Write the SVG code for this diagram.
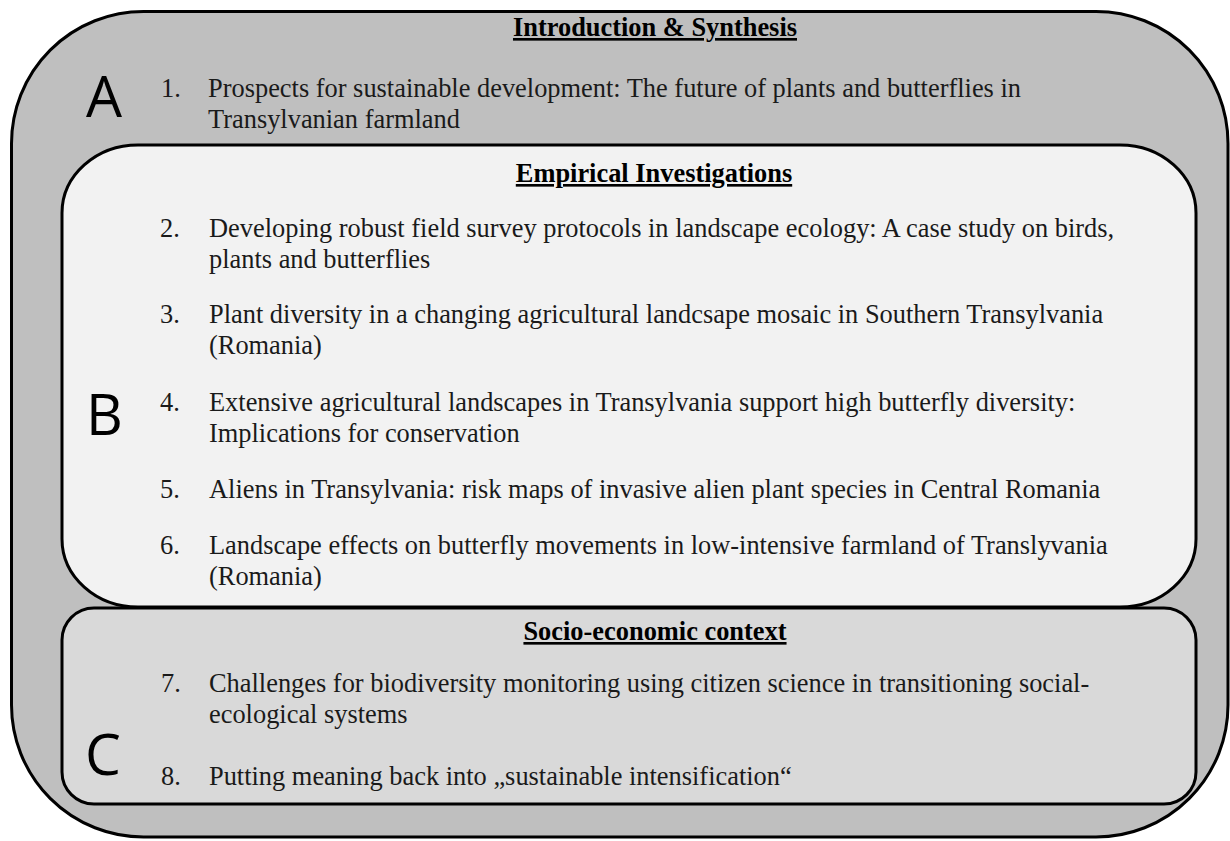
<svg xmlns="http://www.w3.org/2000/svg" width="1230" height="841" viewBox="0 0 1230 841">
<style>
.box{stroke:#000;stroke-width:3}
.t{font-family:"Liberation Serif","Times New Roman",serif;font-size:26.4px;fill:#1a1a1a}
.h{font-family:"Liberation Serif","Times New Roman",serif;font-size:26.4px;font-weight:bold;fill:#000;text-decoration:underline;text-anchor:middle}
.L{font-family:"Open Sans","Liberation Sans",sans-serif;font-size:57px;fill:#000}
</style>
<rect width="1230" height="841" fill="#ffffff"/>
<g id="sectionA">
<rect class="box" x="11.5" y="11.5" width="1216.5" height="825.5" rx="132" ry="132" fill="#bfbfbf"/>
<text class="h" x="655" y="36">Introduction &amp; Synthesis</text>
<text class="L" x="86" y="117">A</text>
<text class="t" x="161" y="97">1.</text>
<text class="t" x="208" y="97">Prospects for sustainable development: The future of plants and butterflies in</text>
<text class="t" x="208" y="128">Transylvanian farmland</text>
</g>
<g id="sectionB">
<rect class="box" x="62" y="145" width="1134" height="462" rx="76" ry="68" fill="#f2f2f2"/>
<text class="h" x="654" y="182">Empirical Investigations</text>
<text class="L" x="86" y="435">B</text>
<text class="t" x="160" y="237">2.</text>
<text class="t" x="209" y="237">Developing robust field survey protocols in landscape ecology: A case study on birds,</text>
<text class="t" x="209" y="268">plants and butterflies</text>
<text class="t" x="160" y="323">3.</text>
<text class="t" x="209" y="323">Plant diversity in a changing agricultural landcsape mosaic in Southern Transylvania</text>
<text class="t" x="209" y="354">(Romania)</text>
<text class="t" x="160" y="411">4.</text>
<text class="t" x="209" y="411">Extensive agricultural landscapes in Transylvania support high butterfly diversity:</text>
<text class="t" x="209" y="442">Implications for conservation</text>
<text class="t" x="160" y="498">5.</text>
<text class="t" x="209" y="498">Aliens in Transylvania: risk maps of invasive alien plant species in Central Romania</text>
<text class="t" x="160" y="554">6.</text>
<text class="t" x="209" y="554">Landscape effects on butterfly movements in low-intensive farmland of Translyvania</text>
<text class="t" x="209" y="585">(Romania)</text>
</g>
<g id="sectionC">
<rect class="box" x="62" y="608" width="1134" height="196" rx="32" ry="32" fill="#d9d9d9"/>
<text class="h" x="655" y="640">Socio-economic context</text>
<text class="L" x="85" y="775">C</text>
<text class="t" x="161" y="692">7.</text>
<text class="t" x="209" y="692">Challenges for biodiversity monitoring using citizen science in transitioning social-</text>
<text class="t" x="209" y="723">ecological systems</text>
<text class="t" x="161" y="785">8.</text>
<text class="t" x="209" y="785">Putting meaning back into „sustainable intensification“</text>
</g>
<g id="connectors"></g>
</svg>
